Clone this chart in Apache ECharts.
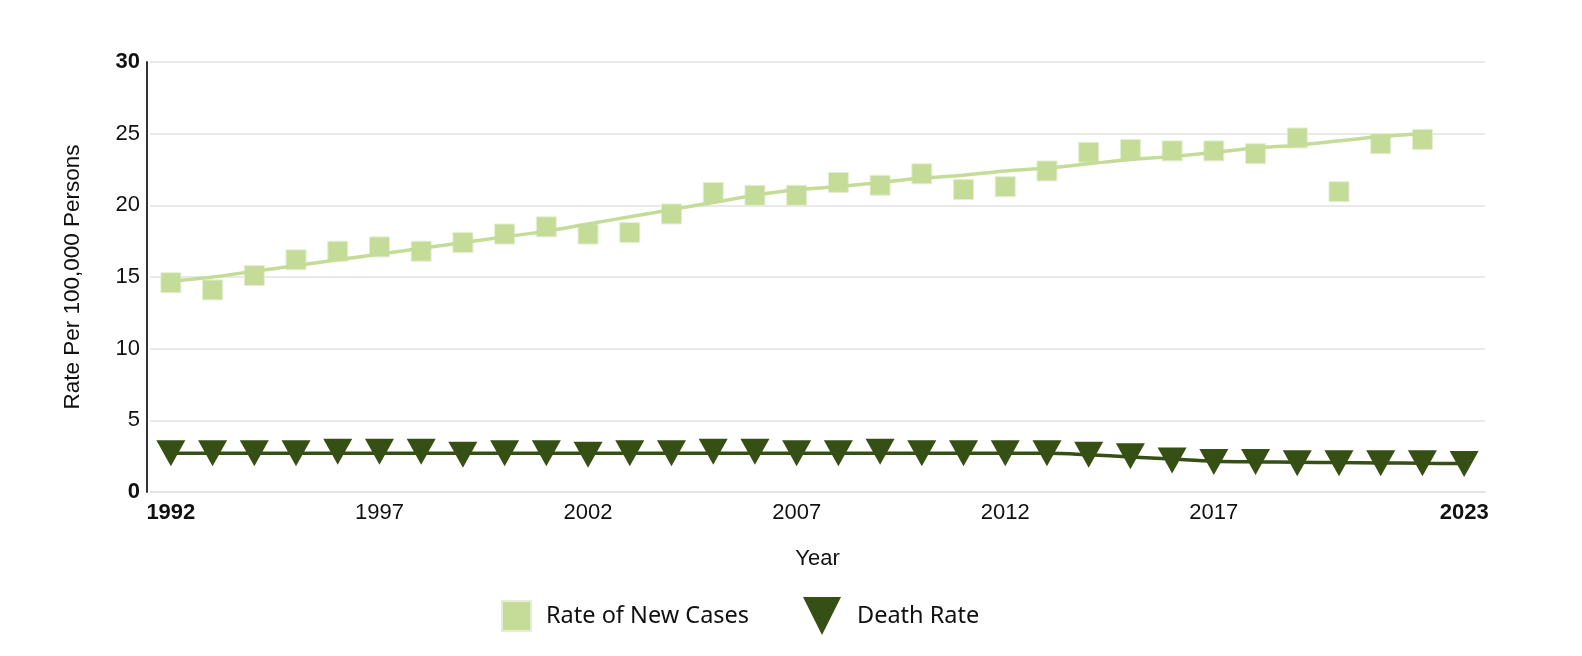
<!DOCTYPE html>
<html>
<head>
<meta charset="utf-8">
<script src="https://cdn.jsdelivr.net/npm/echarts@6/dist/echarts.min.js"></script>
<style>
html,body{margin:0;padding:0;background:#fff;}
#chart{width:1582px;height:656px;}
</style>
</head>
<body>
<div id="chart"></div>
<script>
const years = ['1992','1993','1994','1995','1996','1997','1998','1999','2000','2001','2002','2003','2004','2005','2006','2007','2008','2009','2010','2011','2012','2013','2014','2015','2016','2017','2018','2019','2020','2021','2022','2023'];
const newCases = [14.6,14.1,15.1,16.2,16.8,17.1,16.8,17.4,18.0,18.5,18.0,18.1,19.4,20.9,20.7,20.7,21.6,21.4,22.2,21.1,21.3,22.4,23.7,23.9,23.8,23.8,23.6,24.7,20.95,24.3,24.6,null];
const newCasesTrend = [14.7,15.0,15.4,15.8,16.2,16.6,17.0,17.4,17.8,18.2,18.7,19.2,19.7,20.2,20.7,21.1,21.3,21.6,21.9,22.1,22.4,22.6,22.9,23.2,23.4,23.7,24.0,24.2,24.5,24.8,25.0,null];
const deathRate = [2.7,2.7,2.7,2.7,2.8,2.8,2.8,2.6,2.7,2.7,2.6,2.7,2.7,2.8,2.8,2.7,2.7,2.8,2.7,2.7,2.7,2.7,2.6,2.5,2.2,2.1,2.1,2.0,2.0,2.0,2.0,1.95];
const deathTrend = [2.7,2.7,2.7,2.7,2.7,2.7,2.7,2.7,2.7,2.7,2.7,2.7,2.7,2.7,2.7,2.7,2.7,2.7,2.7,2.7,2.7,2.7,2.6,2.45,2.3,2.15,2.1,2.08,2.05,2.03,2.0,1.98];
const yTicks = [0,5,10,15,20,25,30];

const LIGHT = '#c4dc98';
const DARK = '#354f14';
const AXF = '"Liberation Sans", Arial, sans-serif';
const downTri = 'path://M0,0L10,0L5,10Z';

const chart = echarts.init(document.getElementById('chart'));
chart.setOption({
  animation: false,
  backgroundColor: '#fff',
  grid: {left: 150, right: 97, top: 62, bottom: 164, containLabel: false},
  xAxis: {
    type: 'category',
    data: years,
    boundaryGap: true,
    name: 'Year',
    nameLocation: 'middle',
    nameGap: 56,
    nameTextStyle: {fontFamily: AXF, fontSize: 22, color: '#111'},
    axisLine: {show: true, lineStyle: {color: '#e2e2e2', width: 1.5}},
    axisTick: {show: false},
    splitLine: {show: false},
    axisLabel: {
      interval: function (idx) { return (idx % 5 === 0 && idx <= 25) || idx === 31; },
      margin: 10,
      fontFamily: AXF, fontSize: 22, color: '#111',
      formatter: function (v) { return (v === '1992' || v === '2023') ? '{b|' + v + '}' : v; },
      rich: {b: {fontFamily: AXF, fontSize: 22, fontWeight: 'bold', color: '#111'}}
    }
  },
  yAxis: {
    type: 'value',
    min: 0, max: 30, interval: 5,
    offset: 3,
    name: 'Rate Per 100,000 Persons',
    nameLocation: 'middle',
    nameGap: 63,
    nameRotate: 90,
    nameTextStyle: {fontFamily: AXF, fontSize: 22.5, color: '#111'},
    axisLine: {show: true, lineStyle: {color: '#333', width: 2}},
    axisTick: {show: false},
    splitLine: {show: true, lineStyle: {color: '#e2e2e2', width: 1.5}},
    axisLabel: {
      margin: 7,
      fontFamily: AXF, fontSize: 22, color: '#111',
      formatter: function (v) { return (v === yTicks[0] || v === yTicks[yTicks.length - 1]) ? '{b|' + v + '}' : String(v); },
      rich: {b: {fontFamily: AXF, fontSize: 22, fontWeight: 'bold', color: '#111'}}
    }
  },
  legend: [
    {
      data: [{name: 'Rate of New Cases', icon: 'rect'}],
      left: 496, top: 595,
      itemWidth: 29, itemHeight: 30,
      selectedMode: false,
      textStyle: {fontFamily: '"Noto Sans", "Open Sans", sans-serif', fontSize: 23.5, color: '#111', padding: [0, 0, 0, 10]}
    },
    {
      data: [{name: 'Death Rate', icon: downTri}],
      left: 798, top: 592,
      itemWidth: 40, itemHeight: 38,
      selectedMode: false,
      textStyle: {fontFamily: '"Noto Sans", "Open Sans", sans-serif', fontSize: 23.5, color: '#111', padding: [0, 0, 0, 10]}
    }
  ],
  series: [
    {
      name: 'New Cases Trend',
      type: 'line',
      data: newCasesTrend,
      showSymbol: false,
      symbol: 'none',
      smooth: 0.3,
      lineStyle: {color: LIGHT, width: 3.5},
      itemStyle: {color: LIGHT},
      silent: true
    },
    {
      name: 'Death Trend',
      type: 'line',
      data: deathTrend,
      showSymbol: false,
      symbol: 'none',
      smooth: 0.3,
      lineStyle: {color: DARK, width: 3.5},
      itemStyle: {color: DARK},
      silent: true
    },
    {
      name: 'Rate of New Cases',
      type: 'scatter',
      data: newCases,
      symbol: 'rect',
      symbolSize: 20,
      itemStyle: {color: LIGHT, borderColor: '#e4efd2', borderWidth: 1, opacity: 1}
    },
    {
      name: 'Death Rate',
      type: 'scatter',
      data: deathRate,
      symbol: downTri,
      symbolSize: [29, 26],
      itemStyle: {color: DARK, opacity: 1}
    }
  ]
});
</script>
</body>
</html>
